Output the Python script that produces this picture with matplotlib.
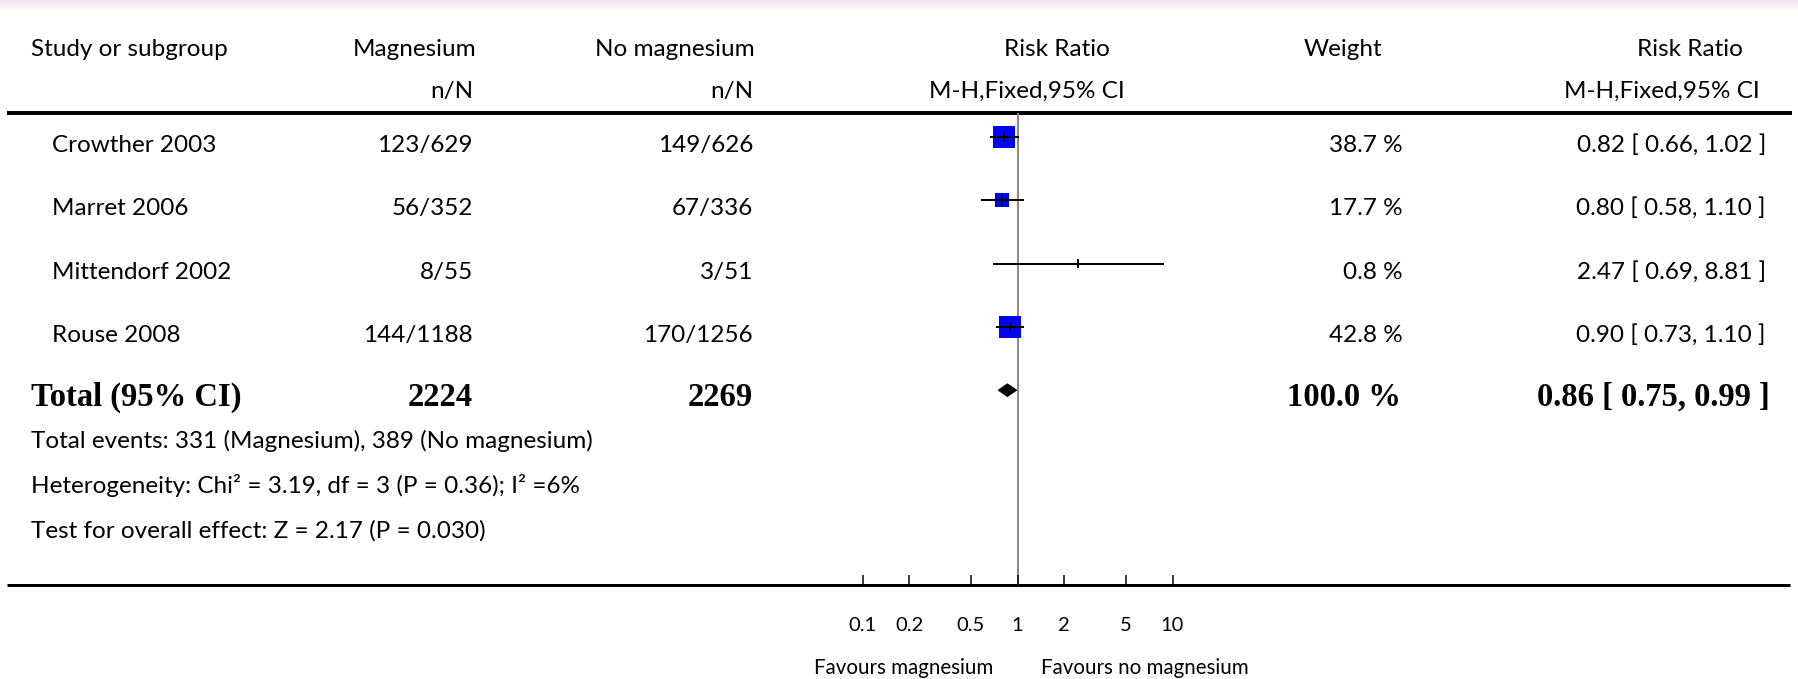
import numpy as np
import matplotlib
matplotlib.use("Agg")
import matplotlib.pyplot as plt
from matplotlib.patches import Polygon

# ---- data -------------------------------------------------------------
studies = ["Crowther 2003", "Marret 2006", "Mittendorf 2002", "Rouse 2008"]
mg_events = [123, 56, 8, 144]
mg_total = [629, 352, 55, 1188]
ctl_events = [149, 67, 3, 170]
ctl_total = [626, 336, 51, 1256]
weights = [38.7, 17.7, 0.8, 42.8]
rr = [0.82, 0.80, 2.47, 0.90]
rr_lo = [0.66, 0.58, 0.69, 0.73]
rr_hi = [1.02, 1.10, 8.81, 1.10]

pooled_rr, pooled_lo, pooled_hi = 0.86, 0.75, 0.99
heterogeneity = "Heterogeneity: Chi² = 3.19, df = 3 (P = 0.36); I² =6%"
overall_test = "Test for overall effect: Z = 2.17 (P = 0.030)"

axis_ticks = [0.1, 0.2, 0.5, 1, 2, 5, 10]
axis_tick_labels = ["0.1", "0.2", "0.5", "1", "2", "5", "10"]

# ---- figure / layout --------------------------------------------------
W, H, DPI = 1798, 679, 100
PX = 72.0 / DPI                      # points per pixel
SANS = ["Lato", "DejaVu Sans"]
SERIF = ["Liberation Serif", "DejaVu Serif"]

fig = plt.figure(figsize=(W / DPI, H / DPI), dpi=DPI)
fig.patch.set_facecolor("white")

lay = fig.add_axes([0, 0, 1, 1])
lay.set_xlim(0, W)
lay.set_ylim(H, 0)
lay.axis("off")

# faint band along the top edge
band = np.linspace(1, 0, 12)[:, None] * np.ones((1, 200))
lay.imshow(np.dstack([np.full_like(band, 0.93), np.full_like(band, 0.88),
                      np.full_like(band, 0.93), band * 0.9]),
           extent=(0, W, 12, 0), aspect="auto", zorder=0)

# horizontal rules
lay.hlines(113, 7, 1792, color="black", lw=4 * PX)
lay.hlines(585, 7, 1790, color="black", lw=3 * PX)

# forest plot region (log scale); x=1 at px 1017.5, 155 px per decade
X_ONE, PPD = 1017.5, 155.0
fx0, fx1 = 840.0, 1195.0
xlim = (10 ** ((fx0 - X_ONE) / PPD), 10 ** ((fx1 - X_ONE) / PPD))

fa = fig.add_axes([fx0 / W, 0, (fx1 - fx0) / W, 1])
fa.set_xscale("log")
fa.set_xlim(*xlim)
fa.set_ylim(H, 0)
fa.axis("off")

row_y = [137 + 63.3 * i for i in range(len(studies))]
total_y = 137 + 63.3 * 4

# line of no effect
fa.vlines(1, 113, 585, color="#8a8a8a", lw=2 * PX, zorder=1)

# studies: box area proportional to weight
for y, est, lo, hi, w in zip(row_y, rr, rr_lo, rr_hi, weights):
    side = 3.4 * np.sqrt(w)
    if side >= 4:
        fa.scatter([est], [y], marker="s", s=(side * PX) ** 2,
                   color="#0000ff", linewidths=0, zorder=2)
    fa.hlines(y, lo, hi, color="black", lw=2 * PX, zorder=3)
    fa.vlines(est, y - 4.5, y + 4.5, color="black", lw=2 * PX, zorder=3)

# pooled estimate diamond
fa.add_patch(Polygon([(pooled_lo, total_y), (pooled_rr, total_y - 6.5),
                      (pooled_hi, total_y), (pooled_rr, total_y + 6.5)],
                     closed=True, facecolor="black", edgecolor="black",
                     lw=0.5, zorder=3))

# bottom scale
ba = fig.add_axes([fx0 / W, (H - 585) / H, (fx1 - fx0) / W, 0.02])
ba.set_xscale("log")
ba.set_xlim(*xlim)
ba.set_facecolor("none")
for s in ba.spines.values():
    s.set_visible(False)
ba.set_yticks([])
ba.set_xticks(axis_ticks)
ba.set_xticklabels(axis_tick_labels, fontfamily=SANS, fontsize=14.5)
ba.xaxis.set_minor_locator(matplotlib.ticker.NullLocator())
ba.tick_params(axis="x", direction="in", length=10 * PX, width=1.5 * PX,
               pad=23, color="black")

# ---- text -------------------------------------------------------------
FS = 17.5
kw = dict(fontfamily=SANS, fontsize=FS, color="black", va="baseline")

def txt(x, y, s, ha="left", **extra):
    d = dict(kw)
    d.update(extra)
    lay.text(x, y, s, ha=ha, **d)

# header
txt(31, 56, "Study or subgroup")
txt(476, 56, "Magnesium", ha="right")
txt(755, 56, "No magnesium", ha="right")
txt(1110, 56, "Risk Ratio", ha="right")
txt(1343, 56, "Weight", ha="center")
txt(1743, 56, "Risk Ratio", ha="right")
txt(473, 98, "n/N", ha="right")
txt(753, 98, "n/N", ha="right")
txt(1125, 98, "M-H,Fixed,95% CI", ha="right")
txt(1760, 98, "M-H,Fixed,95% CI", ha="right")

# study rows
for i, y in enumerate(row_y):
    b = y + 15
    txt(52, b, studies[i])
    txt(473, b, f"{mg_events[i]}/{mg_total[i]}", ha="right")
    txt(753, b, f"{ctl_events[i]}/{ctl_total[i]}", ha="right")
    txt(1403, b, f"{weights[i]:.1f} %", ha="right")
    txt(1766, b, f"{rr[i]:.2f} [ {rr_lo[i]:.2f}, {rr_hi[i]:.2f} ]", ha="right")

# total row
tb = total_y + 15.5
bold = dict(fontfamily=SERIF, fontsize=23.5, fontweight="bold")
txt(31, tb, "Total (95% CI)", **bold)
txt(473, tb, f"{sum(mg_total)}", ha="right", **bold)
txt(753, tb, f"{sum(ctl_total)}", ha="right", **bold)
txt(1401, tb, f"{sum(weights):.1f} %", ha="right", **bold)
txt(1770, tb, f"{pooled_rr:.2f} [ {pooled_lo:.2f}, {pooled_hi:.2f} ]", ha="right", **bold)

# footnotes
txt(31, 448, f"Total events: {sum(mg_events)} (Magnesium), {sum(ctl_events)} (No magnesium)")
txt(31, 493, heterogeneity)
txt(31, 538, overall_test)

# favours labels
txt(993, 674, "Favours magnesium", ha="right", fontsize=14.8)
txt(1041, 674, "Favours no magnesium", ha="left", fontsize=14.8)

fig.savefig("out.png", dpi=DPI, facecolor="white")
